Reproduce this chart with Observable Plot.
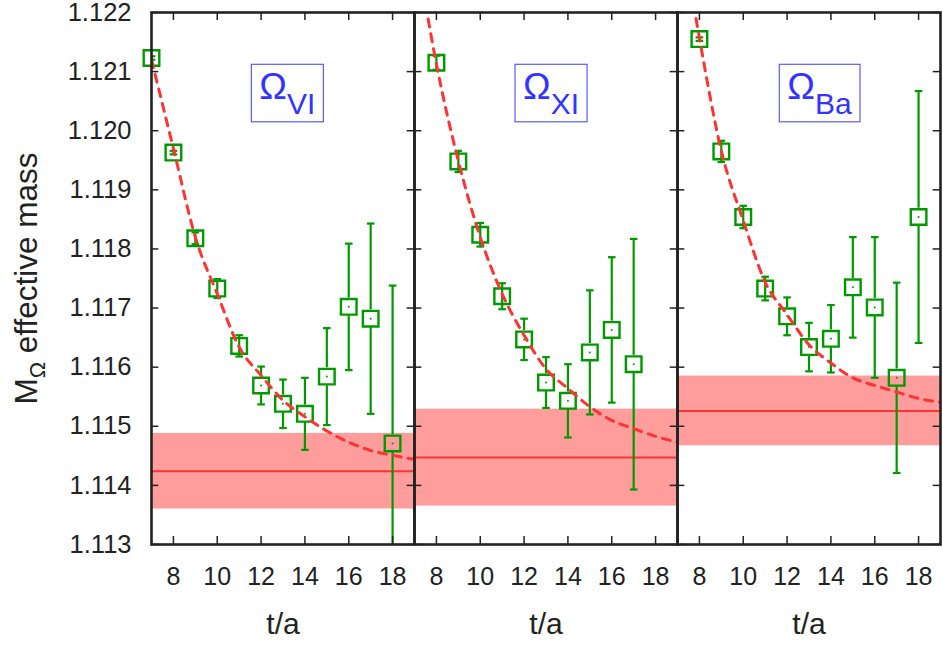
<!DOCTYPE html>
<html><head><meta charset="utf-8">
<script src="https://cdn.jsdelivr.net/npm/d3@7"></script>
<script src="https://cdn.jsdelivr.net/npm/@observablehq/plot@0.6"></script>
<style>body{margin:0;background:#fff}</style>
</head><body><div id="chart"></div>
<script>
// ---------- data ----------
const panels = ["VI", "XI", "Ba"];
const xTicks = [8, 10, 12, 14, 16, 18];
const yTicks = [1.113, 1.114, 1.115, 1.116, 1.117, 1.118, 1.119, 1.120, 1.121, 1.122];

const tVI = [7, 8, 9, 10, 11, 12, 13, 14, 15, 16, 17, 18];
const mVI = [1.12123, 1.11963, 1.11818, 1.11733, 1.11636, 1.11569, 1.11538, 1.11521, 1.11584, 1.11702, 1.11682, 1.11471];
const eVI = [0.00003, 0.00003, 0.00010, 0.00016, 0.00018, 0.00032, 0.00041, 0.00061, 0.00082, 0.00107, 0.00161, 0.00267];

const tXI = [8, 9, 10, 11, 12, 13, 14, 15, 16, 17];
const mXI = [1.12115, 1.11948, 1.11824, 1.11720, 1.11647, 1.11574, 1.11543, 1.11625, 1.11663, 1.11605];
const eXI = [0.00012, 0.00018, 0.00020, 0.00022, 0.00035, 0.00043, 0.00062, 0.00105, 0.00123, 0.00212];

const tBa = [8, 9, 10, 11, 12, 13, 14, 15, 16, 17, 18];
const mBa = [1.12155, 1.11965, 1.11854, 1.11733, 1.11686, 1.11634, 1.11648, 1.11735, 1.11701, 1.11582, 1.11854];
const eBa = [0.00003, 0.00018, 0.00019, 0.00020, 0.00032, 0.00041, 0.00057, 0.00085, 0.00119, 0.00161, 0.00213];

// plateau fits (value, error)
const fitM = [1.11424, 1.11447, 1.11526];
const fitE = [0.00064, 0.00082, 0.00059];

// fit curves
const cTVI = [7, 8, 9, 10, 11, 12, 13, 14, 15, 16, 17, 18, 19];
const cVI  = [1.12120, 1.11970, 1.11820, 1.11724, 1.11634, 1.11586, 1.11544, 1.11516, 1.11492, 1.11473, 1.11459, 1.11451, 1.11444];
const cTXI = [7.5, 8, 9, 10, 11, 12, 13, 14, 15, 16, 17, 18, 19];
const cXI  = [1.12214, 1.12113, 1.11949, 1.11820, 1.11724, 1.11654, 1.11597, 1.11564, 1.11533, 1.11510, 1.11496, 1.11483, 1.11473];
const cTBa = [7.5, 8, 9, 10, 11, 12, 13, 14, 15, 16, 17, 18, 19];
const cBa  = [1.12265, 1.12157, 1.11966, 1.11848, 1.11744, 1.11689, 1.11638, 1.11607, 1.11582, 1.11569, 1.11558, 1.11547, 1.11541];

// legend labels (Ω with subscript)
const legendSub = ["VI", "XI", "Ba"];
const legendT = [13.2, 13.23, 13.48];
const legendY = [1.12054, 1.12054, 1.12054];
const yLabelMain = "M", yLabelSub = "Ω", yLabelRest = " effective mass";
const xLabel = "t/a";

// ---------- tables ----------
const tArr = [tVI, tXI, tBa], mArr = [mVI, mXI, mBa], eArr = [eVI, eXI, eBa];
const points = panels.flatMap((p, i) => tArr[i].map((t, j) => ({panel: p, t, m: mArr[i][j], e: eArr[i][j]})));
const fits = panels.map((p, i) => ({panel: p, m: fitM[i], e: fitE[i]}));
const cT = [cTVI, cTXI, cTBa], cV = [cVI, cXI, cBa];
const curves = panels.flatMap((p, i) => cT[i].map((t, j) => ({panel: p, t, v: cV[i][j]})));
const legend = panels.map((p, i) => ({panel: p, t: legendT[i], y: legendY[i], sub: legendSub[i]}));
const caps = points.flatMap(d => [{panel: d.panel, t: d.t, y: d.m - d.e}, {panel: d.panel, t: d.t, y: d.m + d.e}]);
const SPLIT = 0.00026;
const fullBars = points.filter(d => d.e <= SPLIT);
const splitBars = points.filter(d => d.e > SPLIT);

// ---------- layout ----------
const W = 943, H = 646, ML = 150, MR = 2, MT = 12, MB = 102;
const FW = (W - ML - MR) / 3, FH = H - MT - MB;
const green = "#009a00", red = "#ff3333", band = "#ff9c9c", ink = "#222";
const halfBox = 8.8;
const capSymbol = {draw(ctx) { ctx.moveTo(-3.8, 0); ctx.lineTo(3.8, 0); }};
const font = "'Liberation Sans', Arial, Helvetica, sans-serif";

const chart = Plot.plot({
  width: W, height: H,
  marginLeft: ML, marginRight: MR, marginTop: MT, marginBottom: MB,
  style: {fontFamily: font, fontSize: "25px", color: ink, background: "#fff", overflow: "visible"},
  fx: {domain: panels, padding: 0, axis: null},
  x: {domain: [7, 19]},
  y: {domain: [1.113, 1.122]},
  marks: [
    Plot.rect(fits, {fx: "panel", y1: d => d.m - d.e, y2: d => d.m + d.e, fill: band}),
    Plot.ruleY(fits, {fx: "panel", y: "m", stroke: red, strokeWidth: 2}),
    // error bars
    Plot.ruleX(fullBars, {fx: "panel", x: "t", y1: d => d.m + d.e, y2: d => d.m - d.e, stroke: green, strokeWidth: 2.2, clip: true}),
    Plot.ruleX(splitBars, {fx: "panel", x: "t", y1: "m", y2: d => d.m - d.e, insetTop: halfBox, stroke: green, strokeWidth: 2.2, clip: true}),
    Plot.ruleX(splitBars, {fx: "panel", x: "t", y1: d => d.m + d.e, y2: "m", insetBottom: halfBox, stroke: green, strokeWidth: 2.2, clip: true}),
    Plot.dot(caps, {fx: "panel", x: "t", y: "y", symbol: capSymbol, fill: "none", stroke: green, strokeWidth: 2.2, clip: true}),
    Plot.dot(splitBars, {fx: "panel", x: "t", y: "m", r: 1, fill: green}),
    Plot.dot(points, {fx: "panel", x: "t", y: "m", symbol: "square", r: 8.8, fill: "none", stroke: green, strokeWidth: 2.4}),
    // fit curve
    Plot.line(curves, {fx: "panel", x: "t", y: "v", stroke: red, strokeWidth: 3, strokeDasharray: "8,7", curve: "monotone-x", clip: true}),
    // legend
    Plot.text(legend, {fx: "panel", x: "t", y: "y", text: "sub", lineAnchor: "bottom", textAnchor: "middle", fontSize: 36, fill: "#3333ff"}),
    // inward ticks
    Plot.tickX(xTicks, {x: d => d, insetBottom: FH - 8, stroke: ink, strokeWidth: 1.5}),
    Plot.tickX(xTicks, {x: d => d, insetTop: FH - 8, stroke: ink, strokeWidth: 1.5}),
    Plot.tickY(yTicks, {y: d => d, insetRight: FW - 8, stroke: ink, strokeWidth: 1.5}),
    Plot.tickY(yTicks, {y: d => d, insetLeft: FW - 8, stroke: ink, strokeWidth: 1.5}),
    Plot.frame({stroke: ink, strokeWidth: 2.6}),
    Plot.axisX({ticks: xTicks, tickSize: 0, tickPadding: 23, fontSize: 25, label: null, color: ink}),
    Plot.axisY({ticks: yTicks, tickSize: 0, tickPadding: 20, tickFormat: ".3f", fontSize: 25.5, label: null, color: ink}),
    Plot.text(panels, {fx: d => d, frameAnchor: "bottom", lineAnchor: "middle", textAnchor: "middle", dy: 80, text: () => xLabel, fontSize: 30, fill: ink}),
    Plot.text(["VI"], {fx: d => d, frameAnchor: "left", lineAnchor: "middle", textAnchor: "middle", dx: -125, rotate: -90, text: () => yLabelMain + yLabelSub + yLabelRest, fontSize: 31.5, fill: ink})
  ]
});
document.getElementById("chart").append(chart);

// ---------- rich text (subscripts, legend boxes) ----------
const ns = "http://www.w3.org/2000/svg";
function tspan(txt, attrs) {
  const s = document.createElementNS(ns, "tspan");
  s.textContent = txt;
  for (const k in attrs) s.setAttribute(k, attrs[k]);
  return s;
}
chart.querySelectorAll("text").forEach(t => {
  const c = t.textContent;
  if (legendSub.includes(c)) {
    t.textContent = "";
    t.setAttribute("font-size", 37);
    t.style.fontFamily = font;
    t.append(tspan("Ω", {"font-size": 37}), tspan(c, {"font-size": 30, dy: 15}));
    const bb = t.getBBox();
    const r = document.createElementNS(ns, "rect");
    const tx = +(t.getAttribute("x") || 0), ty = +(t.getAttribute("y") || 0);
    r.setAttribute("x", bb.x - 8 - tx);
    r.setAttribute("y", bb.y - 1.5 - ty);
    r.setAttribute("width", bb.width + 16);
    r.setAttribute("height", bb.height + 3.5);
    r.setAttribute("fill", "none");
    r.setAttribute("stroke", "#5a5aff");
    r.setAttribute("stroke-width", 1.2);
    let tr = t.getAttribute("transform") || "";
    if (tx || ty) tr = `translate(${tx},${ty}) ` + tr;
    if (tr) r.setAttribute("transform", tr);
    t.parentNode.insertBefore(r, t);
  } else if (c === yLabelMain + yLabelSub + yLabelRest) {
    t.textContent = "";
    t.append(tspan(yLabelMain, {}), tspan(yLabelSub, {"font-size": 22, dy: 8}), tspan(yLabelRest, {dy: -8}));
  }
});
</script>
</body></html>
